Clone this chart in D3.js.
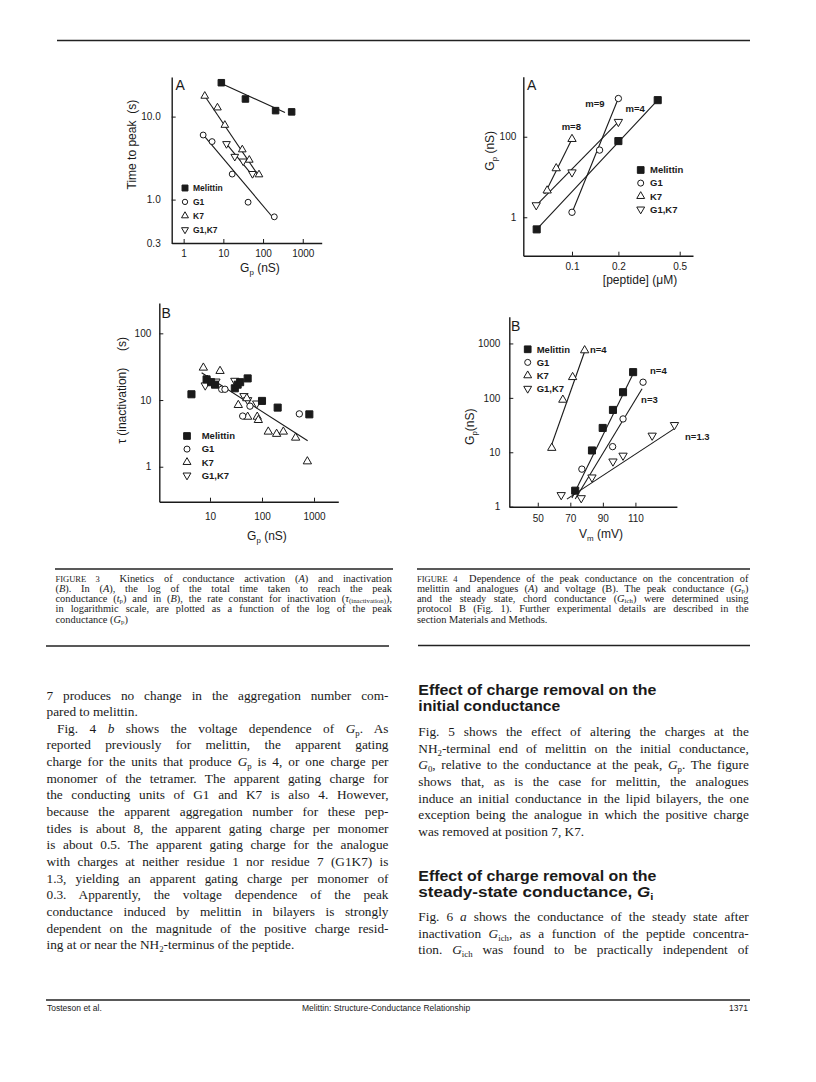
<!DOCTYPE html>
<html>
<head>
<meta charset="utf-8">
<script src="https://cdn.jsdelivr.net/npm/d3@7"></script>
<style>
body { margin: 0; background: #fff; }
</style>
</head>
<body>
<script>
// ---- Fig 3A: time to peak (s) vs Gp (nS) ----
var f3aXDomain = [0.5, 3000];
var f3aYDomain = [0.3, 30];
var f3aXTicks = [1, 10, 100, 1000];
var f3aYTicks = [0.3, 1, 10];
var f3aYTickLabels = ["0.3", "1.0", "10.0"];
var f3aMelittin = [[8.9, 25.6], [36, 16.3], [207, 11.8], [525, 11.4]];
var f3aG1 = [[3.1, 6.0], [5.2, 5.0], [16.7, 2.03], [42, 0.93], [192, 0.62]];
var f3aK7 = [[3.4, 17.7], [7.1, 12.8], [10.9, 7.9], [30, 4.0], [45, 3.0], [79, 2.0]];
var f3aG1K7 = [[12, 4.7], [19.4, 3.3], [31.6, 2.9], [54, 2.05]];
var f3aFitMelittin = [[8.9, 25], [357, 11.2]];
var f3aFitG1 = [[3.4, 5.75], [181, 0.6]];
var f3aFitK7 = [[3.4, 17.7], [79, 1.9]];
var f3aFitG1K7 = [[12, 4.7], [58.6, 1.87]];

// ---- Fig 3B: tau(inactivation) (s) vs Gp (nS) ----
var f3bXDomain = [1.06, 2930];
var f3bYDomain = [0.299, 285];
var f3bXTicks = [10, 100, 1000];
var f3bYTicks = [1, 10, 100];
var f3bMelittin = [[4.4, 12.2], [8.6, 20.4], [10.5, 18.5], [12.5, 17], [30, 15], [34, 17], [38, 18.5], [53, 21.1], [100, 9.7], [200, 7.7], [813, 6.1]];
var f3bG1 = [[16.8, 14.5], [19.4, 14.5], [42.5, 5.75], [58.7, 8.1], [522, 6.2]];
var f3bK7 = [[7.45, 30.5], [8.9, 20], [15.6, 27.2], [35, 8.4], [51, 10.6], [53, 5.6], [81, 5.6], [85, 5.0], [132, 3.35], [191, 3.1], [257, 3.35], [443, 2.72], [745, 1.2]];
var f3bG1K7 = [[8.1, 16.6], [13, 19], [30, 19.5], [45, 11.5], [53, 10], [79, 8.9]];
var f3bFit = [[6.9, 25.7], [755, 2.45]];

// ---- Fig 4A: Gp (nS) vs [peptide] (uM) ----
var f4aXDomain = [0.0483, 0.61];
var f4aYDomain = [0.111, 3100];
var f4aXTicks = [0.1, 0.2, 0.5];
var f4aYTicks = [1, 100];
var f4aMelittin = [[0.059, 0.5], [0.2, 78], [0.36, 811]];
var f4aG1 = [[0.1, 1.33], [0.151, 46.6], [0.2, 890]];
var f4aK7 = [[0.069, 4.6], [0.079, 16.4], [0.1, 87.5]];
var f4aG1K7 = [[0.0586, 2.0], [0.1, 13.1], [0.2, 235]];
var f4aFitMelittin = [[0.059, 0.5], [0.36, 811]];
var f4aFitG1 = [[0.1, 1.3], [0.2, 900]];
var f4aFitK7 = [[0.0665, 3.8], [0.1, 87.5]];
var f4aFitG1K7 = [[0.058, 1.9], [0.2, 235]];
var f4aNotes = [["m=8", 0.099, 146], ["m=9", 0.141, 562], ["m=4", 0.257, 422]];

// ---- Fig 4B: Gp (nS) vs Vm (mV) ----
var f4bXDomain = [32.5, 135.5];
var f4bYDomain = [1, 3100];
var f4bXTicks = [50, 70, 90, 110];
var f4bYTicks = [1, 10, 100, 1000];
var f4bMelittin = [[73, 1.97], [83.3, 10.8], [89.9, 28], [96.2, 60], [102.4, 127], [108.6, 297]];
var f4bG1 = [[77.1, 4.9], [96, 12.7], [102.4, 41], [114.7, 194]];
var f4bK7 = [[58.6, 12], [65.4, 92], [71.4, 240], [78.8, 745]];
var f4bG1K7 = [[64.4, 1.64], [76.7, 1.44], [83.3, 3.46], [96.2, 6.8], [102.4, 8.7], [120.3, 20.3], [134, 31.8]];
var f4bFitMelittin = [[71, 1.44], [109.6, 318]];
var f4bFitG1 = [[73, 1.38], [114.1, 147]];
var f4bFitK7 = [[57.6, 11.5], [79.2, 765]];
var f4bFitG1K7 = [[67.9, 1.38], [133.7, 26.9]];
var f4bNotes = [["n=4", 82.1, 660], ["n=4", 119, 272], ["n=3", 113.5, 79], ["n=1.3", 140.5, 16.8]];

var groups = ["Melittin", "G1", "K7", "G1,K7"];

// ---- page text ----
var caption3 = [
    "#{FIGURE 3}  Kinetics of conductance activation (*A*) and inactivation",
    "(*B*). In (*A*), the log of the total time taken to reach the peak",
    "conductance (*t*_{p}) and in (*B*), the rate constant for inactivation (*τ*_{(inactivation)}),",
    "in logarithmic scale, are plotted as a function of the log of the peak",
    "conductance (*G*_{p})"
];
var caption4 = [
    "#{FIGURE 4}  Dependence of the peak conductance on the concentration of",
    "melittin and analogues (*A*) and voltage (B). The peak conductance (*G*_{p})",
    "and the steady state, chord conductance (*G*_{ich}) were determined using",
    "protocol B (Fig. 1). Further experimental details are described in the",
    "section Materials and Methods."
];
var col1Lines = [
    "7 produces no change in the aggregation number com-",
    "pared to melittin.",
    "Fig. 4 *b* shows the voltage dependence of *G*_{p}. As",
    "reported previously for melittin, the apparent gating",
    "charge for the units that produce *G*_{p} is 4, or one charge per",
    "monomer of the tetramer. The apparent gating charge for",
    "the conducting units of G1 and K7 is also 4. However,",
    "because the apparent aggregation number for these pep-",
    "tides is about 8, the apparent gating charge per monomer",
    "is about 0.5. The apparent gating charge for the analogue",
    "with charges at neither residue 1 nor residue 7 (G1K7) is",
    "1.3, yielding an apparent gating charge per monomer of",
    "0.3. Apparently, the voltage dependence of the peak",
    "conductance induced by melittin in bilayers is strongly",
    "dependent on the magnitude of the positive charge resid-",
    "ing at or near the NH_{2}-terminus of the peptide."
];
var col1Last = [1, 15];
var col1Indent = [2];
var heading1 = ["Effect of charge removal on the", "initial conductance"];
var col2Para1 = [
    "Fig. 5 shows the effect of altering the charges at the",
    "NH_{2}-terminal end of melittin on the initial conductance,",
    "*G*_{0}, relative to the conductance at the peak, *G*_{p}. The figure",
    "shows that, as is the case for melittin, the analogues",
    "induce an initial conductance in the lipid bilayers, the one",
    "exception being the analogue in which the positive charge",
    "was removed at position 7, K7."
];
var heading2 = ["Effect of charge removal on the", "steady-state conductance, *G*_{i}"];
var col2Para2 = [
    "Fig. 6 *a* shows the conductance of the steady state after",
    "inactivation *G*_{ich}, as a function of the peptide concentra-",
    "tion. *G*_{ich} was found to be practically independent of"
];
var footer = ["Tosteson et al.", "Melittin: Structure-Conductance Relationship", "1371"];

var SANS = "'Liberation Sans', Arial, Helvetica, sans-serif";
var SERIF = "'Liberation Serif', 'Times New Roman', serif";
var INK = "#1a1a1a";

var svg = d3.select("body")
    .append("svg")
    .attr("width", 816)
    .attr("height", 1082)
    .style("background", "#fff");

// text with *italic*, _{sub}, #{small} markup
function richText(parent, str, x, y, fs, family, subDrop) {
    var t = parent.append("text")
        .attr("x", x)
        .attr("y", y)
        .attr("font-family", family)
        .attr("font-size", fs)
        .attr("fill", INK);
    var parts = str.split(/(\*[^*]*\*|_\{[^}]*\}|#\{[^}]*\})/);
    var shift = 0;
    var drop = subDrop || 0.22;
    parts.forEach(function (s) {
        if (!s) return;
        var ts = t.append("tspan");
        var dy = 0;
        if (s[0] === "*") {
            ts.attr("font-style", "italic");
            s = s.slice(1, -1);
        } else if (s[0] === "_") {
            s = s.slice(2, -1);
            ts.attr("font-size", fs * 0.66);
            dy = fs * drop;
        } else if (s[0] === "#") {
            s = s.slice(2, -1);
            ts.attr("font-size", fs * 0.82);
        }
        if (dy - shift !== 0) ts.attr("dy", dy - shift);
        shift = dy;
        ts.text(s);
    });
    return t;
}

// justify a line by widening word gaps, squeeze it if it is too long
function justify(t, width) {
    var node = t.node();
    var w = node.getComputedTextLength();
    var gaps = (node.textContent.match(/ /g) || []).length;
    if (w < width && gaps > 0) {
        t.attr("word-spacing", (width - w) / gaps);
    } else {
        t.attr("textLength", width).attr("lengthAdjust", "spacing");
    }
}

function textBlock(lines, x, y0, step, width, fs, lastIdx, indentIdx, indent, subDrop) {
    lines.forEach(function (line, i) {
        var ind = indentIdx.indexOf(i) >= 0 ? indent : 0;
        var t = richText(svg, line, x + ind, y0 + i * step, fs, SERIF, subDrop)
            .attr("xml:space", "preserve");
        if (lastIdx.indexOf(i) < 0) justify(t, width - ind);
    });
}

function rule(x1, x2, y, w) {
    svg.append("line")
        .attr("x1", x1).attr("x2", x2)
        .attr("y1", y).attr("y2", y)
        .attr("stroke", "#222")
        .attr("stroke-width", w);
}

// ---- chart panels ----
var symbolTypes = {
    "Melittin": d3.symbolSquare,
    "G1": d3.symbolCircle,
    "K7": d3.symbolTriangle,
    "G1,K7": d3.symbolTriangle
};
var symbolSizes = { "Melittin": 50, "G1": 32, "K7": 30, "G1,K7": 30 };

function drawSymbol(parent, name, cx, cy, k) {
    var rot = name === "G1,K7" ? 180 : 0;
    parent.append("path")
        .attr("d", d3.symbol().type(symbolTypes[name]).size(symbolSizes[name] * k)())
        .attr("transform", "translate(" + cx + "," + cy + ") rotate(" + rot + ")")
        .attr("fill", name === "Melittin" ? INK : "#fff")
        .attr("stroke", INK)
        .attr("stroke-width", 1);
}

function drawPanel(p) {
    var g = svg.append("g");
    var x = p.x, y = p.y;

    var gx = g.append("g")
        .attr("transform", "translate(0," + y.range()[0] + ")")
        .call(d3.axisBottom(x)
            .tickValues(p.xTicks)
            .tickFormat(p.xFormat)
            .tickSizeInner(-4)
            .tickSizeOuter(0)
            .tickPadding(p.xPad));
    var gy = g.append("g")
        .attr("transform", "translate(" + x.range()[0] + ",0)")
        .call(d3.axisLeft(y)
            .tickValues(p.yTicks)
            .tickFormat(p.yFormat)
            .tickSizeInner(-4)
            .tickSizeOuter(0)
            .tickPadding(p.yPad));
    [gx, gy].forEach(function (a) {
        a.attr("font-family", SANS).attr("font-size", 10);
        a.select(".domain").attr("stroke", INK).attr("stroke-width", 1.4);
        a.selectAll(".tick line").attr("stroke", INK);
        a.selectAll(".tick text").attr("fill", INK);
    });

    var line = d3.line()
        .x(function (d) { return x(d[0]); })
        .y(function (d) { return y(d[1]); });
    p.fits.forEach(function (f) {
        g.append("path")
            .attr("d", line(f))
            .attr("fill", "none")
            .attr("stroke", INK)
            .attr("stroke-width", 1.1);
    });

    // draw Melittin last so the squares stay on top
    [3, 2, 1, 0].forEach(function (i) {
        p.series[i].forEach(function (d) {
            drawSymbol(g, groups[i], x(d[0]), y(d[1]), p.k);
        });
    });

    groups.forEach(function (name, i) {
        var ly = p.legend.y + i * p.legend.dy;
        drawSymbol(g, name, p.legend.x, ly, p.legend.k);
        g.append("text")
            .attr("x", p.legend.tx)
            .attr("y", ly + 3.3)
            .attr("font-family", SANS)
            .attr("font-size", p.legend.fs)
            .attr("font-weight", "bold")
            .attr("fill", INK)
            .text(name);
    });

    p.notes.forEach(function (n) {
        g.append("text")
            .attr("x", x(n[1]))
            .attr("y", y(n[2]))
            .attr("text-anchor", p.noteAnchor)
            .attr("font-family", SANS)
            .attr("font-size", 9.5)
            .attr("font-weight", "bold")
            .attr("fill", INK)
            .text(n[0]);
    });

    g.append("text")
        .attr("x", p.letter[1])
        .attr("y", p.letter[2])
        .attr("font-family", SANS)
        .attr("font-size", 14)
        .attr("fill", INK)
        .text(p.letter[0]);

    richText(g, p.xTitle[0], p.xTitle[1], p.xTitle[2], 12, SANS)
        .attr("text-anchor", "middle");
    p.yTitles.forEach(function (yt) {
        var gr = g.append("g")
            .attr("transform", "translate(" + yt[1] + "," + yt[2] + ") rotate(-90)");
        richText(gr, yt[0], 0, 0, 12, SANS).attr("text-anchor", "middle");
    });
}

function fmtList(ticks, labels) {
    return function (d, i) { return labels ? labels[i] : String(d); };
}

var panels = [
    {
        x: d3.scaleLog().domain(f3aXDomain).range([171.7, 321.7]),
        y: d3.scaleLog().domain(f3aYDomain).range([243, 77]),
        xTicks: f3aXTicks, yTicks: f3aYTicks,
        xFormat: fmtList(f3aXTicks), yFormat: fmtList(f3aYTicks, f3aYTickLabels),
        xPad: 6.5, yPad: 11, k: 0.85,
        series: [f3aMelittin, f3aG1, f3aK7, f3aG1K7],
        fits: [f3aFitMelittin, f3aFitG1, f3aFitK7, f3aFitG1K7],
        legend: { x: 185, y: 188, dy: 13.9, tx: 193, fs: 8.5, k: 0.7 },
        notes: [], noteAnchor: "start",
        letter: ["A", 175.5, 90],
        xTitle: ["G_{p} (nS)", 260, 272],
        yTitles: [["Time to peak", 136, 155], ["(s)", 136, 106.7]]
    },
    {
        x: d3.scaleLog().domain(f3bXDomain).range([159.3, 338.3]),
        y: d3.scaleLog().domain(f3bYDomain).range([501.7, 303]),
        xTicks: f3bXTicks, yTicks: f3bYTicks,
        xFormat: fmtList(f3bXTicks), yFormat: fmtList(f3bYTicks),
        xPad: 11, yPad: 8, k: 1,
        series: [f3bMelittin, f3bG1, f3bK7, f3bG1K7],
        fits: [f3bFit],
        legend: { x: 187, y: 436, dy: 13.1, tx: 201.7, fs: 9.5, k: 0.9 },
        notes: [], noteAnchor: "start",
        letter: ["B", 161.5, 318],
        xTitle: ["G_{p} (nS)", 267, 540],
        yTitles: [["τ (inactivation)", 126, 405.8], ["(s)", 126, 344]]
    },
    {
        x: d3.scaleLog().domain(f4aXDomain).range([523.3, 693]),
        y: d3.scaleLog().domain(f4aYDomain).range([255.7, 76.7]),
        xTicks: f4aXTicks, yTicks: f4aYTicks,
        xFormat: fmtList(f4aXTicks), yFormat: fmtList(f4aYTicks),
        xPad: 7.7, yPad: 7, k: 1,
        series: [f4aMelittin, f4aG1, f4aK7, f4aG1K7],
        fits: [f4aFitMelittin, f4aFitG1, f4aFitK7, f4aFitG1K7],
        legend: { x: 640.7, y: 170, dy: 13.1, tx: 650, fs: 9.5, k: 0.9 },
        notes: f4aNotes, noteAnchor: "middle",
        letter: ["A", 527, 90],
        xTitle: ["[peptide] (μM)", 640, 284],
        yTitles: [["G_{p} (nS)", 494, 150.8]]
    },
    {
        x: d3.scaleLinear().domain(f4bXDomain).range([509.3, 676.9]),
        y: d3.scaleLog().domain(f4bYDomain).range([506.7, 316.7]),
        xTicks: f4bXTicks, yTicks: f4bYTicks,
        xFormat: fmtList(f4bXTicks), yFormat: fmtList(f4bYTicks),
        xPad: 8, yPad: 9, k: 1,
        series: [f4bMelittin, f4bG1, f4bK7, f4bG1K7],
        fits: [f4bFitMelittin, f4bFitG1, f4bFitK7, f4bFitG1K7],
        legend: { x: 527.7, y: 349.3, dy: 13.1, tx: 536.7, fs: 9.5, k: 0.9 },
        notes: f4bNotes, noteAnchor: "start",
        letter: ["B", 511, 331],
        xTitle: ["V_{m} (mV)", 601, 538],
        yTitles: [["G_{p}(nS)", 474, 426.7]]
    }
];

panels.forEach(drawPanel);

// ---- rules ----
rule(57, 750, 40.5, 1.3);
rule(55, 393, 569, 1.6);
rule(417, 750, 569, 1.6);
rule(46, 389, 646, 1.3);
rule(418, 750, 645.5, 1.3);
rule(46, 750, 1000, 1.3);

// ---- captions ----
textBlock(caption3, 55.5, 581.5, 10.3, 336.5, 10.4, [4], [], 0, 0.12);
textBlock(caption4, 417, 581.5, 10.3, 331.5, 10.4, [4], [], 0, 0.12);

// ---- body ----
textBlock(col1Lines, 46.5, 699.5, 16.65, 342, 13.3, col1Last, col1Indent, 10.5);

function heading(lines, y0, widths) {
    lines.forEach(function (l, i) {
        richText(svg, l, 418.3, y0 + i * 16, 14, SANS)
            .attr("font-weight", "bold")
            .attr("textLength", widths[i])
            .attr("lengthAdjust", "spacingAndGlyphs");
    });
}
heading(heading1, 694.5, [238, 142]);
textBlock(col2Para1, 418.3, 736, 16.65, 330.5, 13.3, [6], [], 0);
heading(heading2, 881, [238, 235]);
textBlock(col2Para2, 418.3, 921, 16.65, 330.5, 13.3, [], [], 0);

// ---- footer ----
svg.append("text")
    .attr("x", 47).attr("y", 1011)
    .attr("font-family", SANS).attr("font-size", 8.5).attr("fill", INK)
    .text(footer[0]);
svg.append("text")
    .attr("x", 302).attr("y", 1011)
    .attr("font-family", SANS).attr("font-size", 8.5).attr("fill", INK)
    .text(footer[1]);
svg.append("text")
    .attr("x", 748).attr("y", 1011)
    .attr("text-anchor", "end")
    .attr("font-family", SANS).attr("font-size", 8.5).attr("fill", INK)
    .text(footer[2]);
</script>
</body>
</html>
